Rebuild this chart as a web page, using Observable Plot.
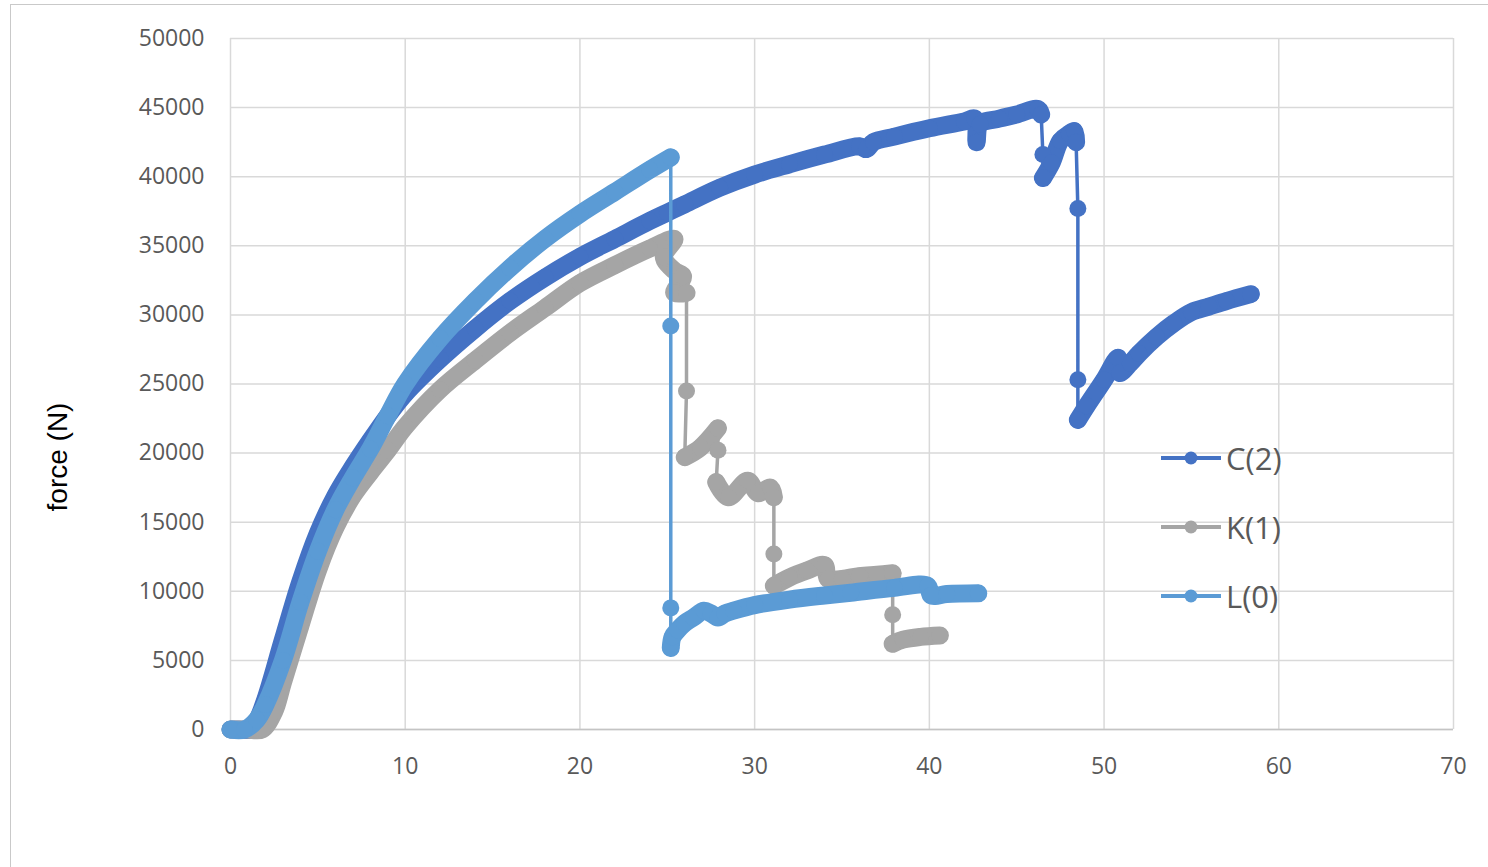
<!DOCTYPE html>
<html><head><meta charset="utf-8">
<script src="https://cdn.jsdelivr.net/npm/d3@7"></script>
<script src="https://cdn.jsdelivr.net/npm/@observablehq/plot@0.6"></script>
<style>
html,body{margin:0;padding:0;background:#fff;overflow:hidden;}
#wrap{position:relative;width:1488px;height:867px;overflow:hidden;}
#frame{position:absolute;left:10px;top:4px;width:1520px;height:920px;border:1.5px solid #c9c9c9;box-sizing:border-box;pointer-events:none}
#ylabel{position:absolute;left:58px;top:457px;transform:translate(-50%,-50%) rotate(-90deg);font-family:"Liberation Sans",Arial,sans-serif;font-size:28px;color:#000;white-space:nowrap}
.item{position:absolute;left:1160px;display:flex;align-items:center;white-space:nowrap;transform:translateY(-50%);font-family:"Open Sans",sans-serif;font-size:31px;color:#595959}
.item svg{display:block;margin-right:4px}
#plot{position:absolute;left:0;top:0}
</style>
</head><body>
<div id="wrap"><div id="frame"></div><div id="plot"></div><div id="ylabel">force (N)</div><div id="legend"></div></div>
<script>
// ---- data ----
const seriesNames = ["C(2)", "K(1)", "L(0)"];
const seriesColors = ["#4472C4", "#A5A5A5", "#5B9BD5"];
const xTicks = [0, 10, 20, 30, 40, 50, 60, 70];
const yTicks = [0, 5000, 10000, 15000, 20000, 25000, 30000, 35000, 40000, 45000, 50000];

const cX = [0,0.5,1.1,1.5,2,3,4,5,6,7,8,9,10,12,14,16,18,20,22,24,25,26,28,30,32,34,36,36.4,36.8,38,40,42,42.6,42.7,42.9,44,45,46.2,46.4,46.5,46.5,47,47.5,48,48.3,48.4,48.5,48.5,48.5,49,50,50.8,50.9,51.5,52,53,54,55,56,57,58.4];
const cY = [0,0,0,600,2200,6500,10700,14200,16900,19000,20900,22700,24300,26800,29000,31000,32700,34200,35500,36800,37400,38000,39200,40150,40900,41600,42200,42000,42500,42900,43500,44000,44200,42500,43800,44200,44500,44900,44500,41600,39900,41000,42600,43100,43300,42500,37700,25300,22400,23400,25300,26900,25800,26500,27200,28400,29400,30200,30600,31000,31500];
const cSparse = [39, 46, 47];

const kX = [0,1,1.8,2.5,3,4,5,6,7,8,9,10,12,14,16,18,20,22,24,25.4,24.8,25.4,25.9,25.4,26.1,26.1,26.0,26.9,27.9,27.9,27.8,28.5,29.6,30.2,30.9,31.1,31.1,31.1,32,33,34,34.2,35,36,37,37.9,37.9,37.9,38.5,39.5,40.6];
const kY = [0,0,0,1300,3400,7500,11500,14600,16900,18600,20200,21900,24600,26700,28700,30500,32300,33600,34800,35500,34200,33200,32800,31600,31600,24500,19700,20400,21800,20200,17900,16800,18000,17100,17500,16800,12700,10400,11000,11500,11900,10900,10900,11100,11200,11300,8300,6200,6500,6700,6800];
const kSparse = [25, 29, 36, 46];

const lX = [0,0.8,1.5,2,3,4,5,6,7,8,9,10,12,14,16,18,20,22,24,25.2,25.2,25.2,25.2,25.3,25.6,26,26.5,27.1,27.5,27.9,28.3,28.8,30,32,34,35.5,38,39.9,40.1,41,42.8];
const lY = [0,0,700,1800,5000,9200,12900,15900,18200,20300,22700,25000,28300,31000,33400,35500,37300,38900,40500,41400,29200,8800,5900,6700,7200,7700,8100,8600,8400,8100,8400,8600,9000,9400,9700,9900,10250,10400,9700,9800,9850];
const lSparse = [20, 21];

// ---- build rows ----
function rows(xs, ys, sparse) {
  return xs.map((x, i) => ({x, y: ys[i], band: !sparse.includes(i)}));
}
const seriesRows = [rows(cX, cY, cSparse), rows(kX, kY, kSparse), rows(lX, lY, lSparse)];

const seriesMarks = [];
seriesRows.forEach((data, i) => {
  const color = seriesColors[i];
  seriesMarks.push(
    Plot.line(data, {x: "x", y: "y", stroke: color, strokeWidth: 3.5}),
    Plot.line(data, {x: "x", y: d => d.band ? d.y : NaN, stroke: color, strokeWidth: 18, strokeLinecap: "round", strokeLinejoin: "round", curve: "catmull-rom"}),
    Plot.dot(data, {x: "x", y: "y", r: 8.5, fill: color, stroke: null})
  );
});

const chart = Plot.plot({
  width: 1488, height: 867,
  marginLeft: 230, marginRight: 35, marginTop: 38, marginBottom: 138,
  x: {domain: [0, 70]},
  y: {domain: [0, 50000]},
  style: {fontFamily: '"Open Sans", sans-serif', fontSize: "23px", color: "#595959", background: "transparent"},
  marks: [
    Plot.gridX(xTicks, {stroke: "#d9d9d9", strokeOpacity: 1, strokeWidth: 1.5}),
    Plot.gridY(yTicks, {stroke: "#d9d9d9", strokeOpacity: 1, strokeWidth: 1.5}),
    Plot.ruleY([0], {stroke: "#c4c4c4", strokeWidth: 1.5}),
    Plot.axisX(xTicks, {tickSize: 0, tickPadding: 28, label: null, tickFormat: d => String(d)}),
    Plot.axisY(yTicks, {tickSize: 0, tickPadding: 26, label: null, tickFormat: d => String(d)}),
    ...seriesMarks
  ]
});
document.getElementById("plot").appendChild(chart);

// ---- legend ----
const legendTops = [458, 527, 596];
const legend = document.getElementById("legend");
seriesNames.forEach((name, i) => {
  const item = document.createElement("div");
  item.className = "item";
  item.style.top = legendTops[i] + "px";
  item.innerHTML = `<svg width="62" height="20"><line x1="1" y1="10" x2="61" y2="10" stroke="${seriesColors[i]}" stroke-width="4"/><circle cx="31" cy="10" r="6.5" fill="${seriesColors[i]}"/></svg><span>${name}</span>`;
  legend.appendChild(item);
});
</script>
</body></html>
